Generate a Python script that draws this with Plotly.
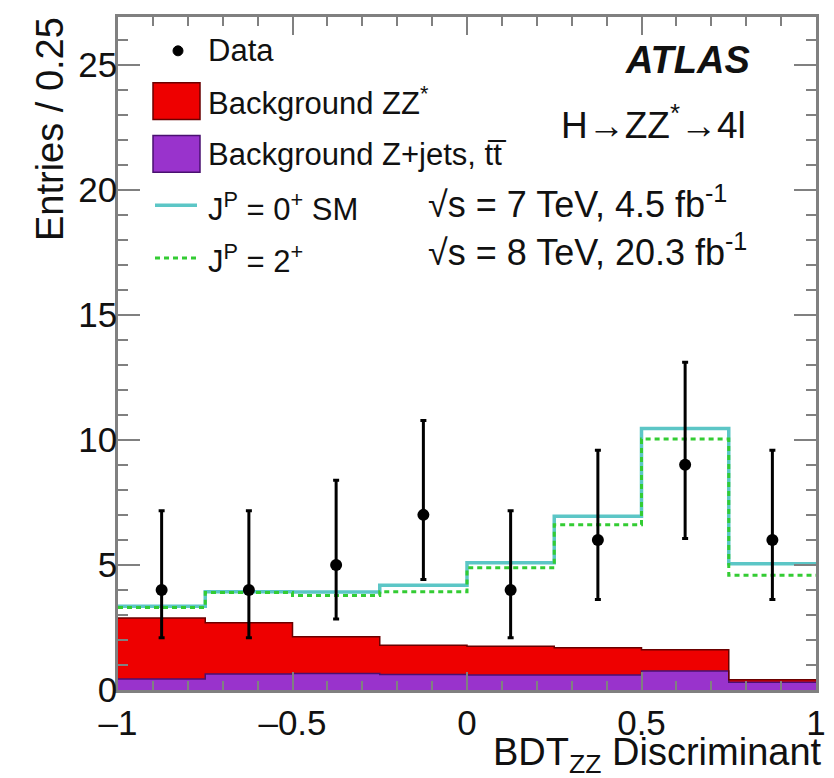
import plotly.graph_objects as go

# ---------------- data ----------------
bin_edges = [-1.0, -0.75, -0.5, -0.25, 0.0, 0.25, 0.5, 0.75, 1.0]
bin_centers = [-0.875, -0.625, -0.375, -0.125, 0.125, 0.375, 0.625, 0.875]
data_counts = [4, 4, 5, 7, 4, 6, 9, 6]
data_err_low = [2.09, 2.09, 2.84, 4.42, 2.09, 3.62, 6.06, 3.62]
data_err_high = [7.16, 7.16, 8.38, 10.77, 7.16, 9.58, 13.1, 9.58]
bkg_zjets = [0.44, 0.64, 0.66, 0.62, 0.60, 0.60, 0.76, 0.31]
bkg_zz = [2.44, 2.05, 1.47, 1.17, 1.15, 1.09, 0.85, 0.10]
sig_0plus = [3.35, 3.93, 3.92, 4.19, 5.09, 6.94, 10.45, 5.05]
sig_2plus = [3.30, 3.90, 3.78, 3.93, 4.89, 6.61, 10.03, 4.59]
x_ticks = [-1, -0.5, 0, 0.5, 1]
x_ticklabels = ["\u20131", "\u20130.5", "0", "0.5", "1"]
y_ticks = [0, 5, 10, 15, 20, 25]

FONT = "Liberation Sans, Arial, Helvetica, sans-serif"
RED = "#ee0000"
PURPLE = "#9933cc"
CYAN = "#5cc6c6"
GREEN = "#33cc33"
TXT = "#111111"
AX = "#808080"

# page body has an 8px margin -> compensate
OFF = 8
W, H = 834 - OFF, 778 - OFF
# plot-area geometry in reference pixels
L, R, T, B = 118, 816, 14, 690


def px(x):
    return (x - L) / (R - L)


def py(y):
    return (B - y) / (B - T)


fig = go.Figure()

# stacked backgrounds as filled step histograms
zjets_step = bkg_zjets + [bkg_zjets[-1]]
total_bkg = [a + b for a, b in zip(bkg_zjets, bkg_zz)]
total_step = total_bkg + [total_bkg[-1]]
fig.add_trace(go.Scatter(x=bin_edges, y=zjets_step, mode="lines",
                         line=dict(color="#4a1070", width=1.5, shape="hv"),
                         fill="tozeroy", fillcolor=PURPLE, showlegend=False))
fig.add_trace(go.Scatter(x=bin_edges, y=total_step, mode="lines",
                         line=dict(color="#6a0000", width=1.5, shape="hv"),
                         fill="tonexty", fillcolor=RED, showlegend=False))

# signal hypotheses as step lines
fig.add_trace(go.Scatter(x=bin_edges, y=sig_0plus + [sig_0plus[-1]], mode="lines",
                         line=dict(color=CYAN, width=3.5, shape="hv"), showlegend=False))
fig.add_trace(go.Scatter(x=bin_edges, y=sig_2plus + [sig_2plus[-1]], mode="lines",
                         line=dict(color=GREEN, width=3, shape="hv", dash="5px,4px"),
                         showlegend=False))

# data with asymmetric Poisson errors
err_plus = [h - n for h, n in zip(data_err_high, data_counts)]
err_minus = [n - l for n, l in zip(data_counts, data_err_low)]
fig.add_trace(go.Scatter(x=bin_centers, y=data_counts, mode="markers",
                         marker=dict(color="black", size=12),
                         error_y=dict(type="data", symmetric=False, array=err_plus,
                                      arrayminus=err_minus, color="black",
                                      thickness=3, width=3),
                         showlegend=False))

# ---------------- hand-made legend ----------------
shapes = []
annotations = []
LEG_FS = 31

shapes.append(dict(type="circle", xref="paper", yref="paper",
                   x0=px(173), x1=px(183), y0=py(53), y1=py(43),
                   fillcolor="black", line=dict(color="black", width=1)))
shapes.append(dict(type="rect", xref="paper", yref="paper",
                   x0=px(153), x1=px(200), y0=py(117), y1=py(80),
                   fillcolor=RED, line=dict(color="#6a0000", width=1.5)))
shapes.append(dict(type="rect", xref="paper", yref="paper",
                   x0=px(153), x1=px(200), y0=py(170), y1=py(133),
                   fillcolor=PURPLE, line=dict(color="#4a1070", width=1.5)))
shapes.append(dict(type="line", xref="paper", yref="paper",
                   x0=px(155), x1=px(197), y0=py(203), y1=py(203),
                   line=dict(color=CYAN, width=3.5)))
shapes.append(dict(type="line", xref="paper", yref="paper",
                   x0=px(155), x1=px(197), y0=py(256), y1=py(256),
                   line=dict(color=GREEN, width=3, dash="5px,4px")))

leg_items = [
    ("Data", 48),
    ("Background ZZ<sup>*</sup>", 98),
    ("Background Z+jets, tt\u0305", 152),
    ("J<sup>P</sup> = 0<sup>+</sup> SM", 205),
    ("J<sup>P</sup> = 2<sup>+</sup>", 257),
]
for txt, yy in leg_items:
    annotations.append(dict(text=txt, xref="paper", yref="paper",
                            x=px(206), y=py(yy), xanchor="left", yanchor="middle",
                            showarrow=False, font=dict(family=FONT, size=LEG_FS, color=TXT)))

annotations.append(dict(text="<b><i>ATLAS</i></b>", xref="paper", yref="paper",
                        x=px(752), y=py(57), xanchor="right", yanchor="middle",
                        showarrow=False, font=dict(family=FONT, size=38, color=TXT)))
annotations.append(dict(text="H\u2192ZZ<sup>*</sup>\u21924l", xref="paper", yref="paper",
                        x=px(748), y=py(120), xanchor="right", yanchor="middle",
                        showarrow=False, font=dict(family=FONT, size=37, color=TXT)))
annotations.append(dict(text="\u221as = 7 TeV, 4.5 fb<sup>-1</sup>", xref="paper", yref="paper",
                        x=px(426), y=py(200), xanchor="left", yanchor="middle",
                        showarrow=False, font=dict(family=FONT, size=36, color=TXT)))
annotations.append(dict(text="\u221as = 8 TeV, 20.3 fb<sup>-1</sup>", xref="paper", yref="paper",
                        x=px(426), y=py(248), xanchor="left", yanchor="middle",
                        showarrow=False, font=dict(family=FONT, size=36, color=TXT)))

# axis titles
annotations.append(dict(text="BDT<sub>ZZ</sub> Discriminant", xref="paper", yref="paper",
                        x=px(824), y=py(755), xanchor="right", yanchor="middle",
                        showarrow=False, font=dict(family=FONT, size=38, color=TXT)))
annotations.append(dict(text="Entries / 0.25", xref="paper", yref="paper",
                        x=px(50), y=py(12), xanchor="center", yanchor="top",
                        textangle=-90, showarrow=False,
                        font=dict(family=FONT, size=38, color=TXT)))

fig.update_layout(
    width=W, height=H,
    margin=dict(l=L - OFF, r=W - (R - OFF), t=T - OFF, b=H - (B - OFF), pad=0),
    paper_bgcolor="white", plot_bgcolor="white",
    shapes=shapes, annotations=annotations,
    font=dict(family=FONT, color=TXT),
    showlegend=False,
)
fig.update_xaxes(range=[-1, 1], tickvals=x_ticks, ticktext=x_ticklabels,
                 ticks="inside", ticklen=18, tickwidth=2, tickcolor=AX,
                 minor=dict(ticks="inside", dtick=0.1, ticklen=9, tickwidth=2, tickcolor=AX),
                 showline=True, linecolor=AX, linewidth=2.5, mirror="allticks",
                 showgrid=False, zeroline=False,
                 tickfont=dict(family=FONT, size=35, color=TXT))
fig.update_yaxes(range=[0, 26.9], tickvals=y_ticks,
                 ticks="inside", ticklen=22, tickwidth=2, tickcolor=AX,
                 minor=dict(ticks="inside", dtick=1, ticklen=10, tickwidth=2, tickcolor=AX),
                 showline=True, linecolor=AX, linewidth=2.5, mirror="allticks",
                 showgrid=False, zeroline=False, ticklabelstandoff=-9,
                 tickfont=dict(family=FONT, size=35, color=TXT))

fig.write_html("out.html")
